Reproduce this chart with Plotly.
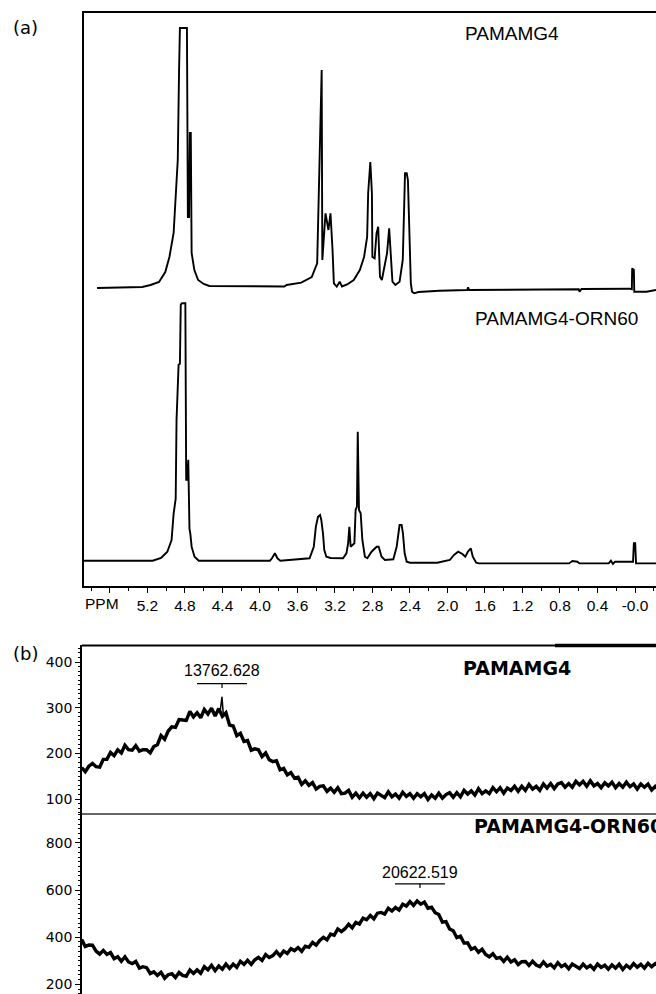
import plotly.graph_objects as go

# ---------------- Panel (a): 1H NMR spectra (ppm, arbitrary intensity) ----------------
nmr_top_ppm = [5.738, 5.256, 5.167, 5.077, 5.010, 4.966, 4.921, 4.899, 4.877, 4.863, 4.854, 4.779,
               4.769, 4.757, 4.748, 4.738, 4.729, 4.700, 4.660, 4.600, 4.540, 3.740, 3.716, 3.560,
               3.448, 3.390, 3.359, 3.342, 3.335, 3.301, 3.270, 3.248, 3.226, 3.212, 3.181, 3.150,
               3.125, 3.070, 3.000, 2.935, 2.890, 2.857, 2.846, 2.823, 2.806, 2.801, 2.777, 2.757,
               2.739, 2.720, 2.700, 2.674, 2.645, 2.622, 2.605, 2.587, 2.556, 2.511, 2.477, 2.466,
               2.453, 2.435, 2.422, 2.409, 2.391, 2.378, 2.355, 2.310, 2.087, 1.790, 1.780, 1.770,
               0.840, 0.600, 0.592, 0.570, 0.057, 0.034, 0.030, 0.012, 0.008, -0.122, -0.224]
nmr_top_int = [-1, 0, 2, 5, 15, 30, 54, 97, 127, 217, 259, 259,
               70, 70, 154, 154, 34, 17, 7, 3, 1, 0.5, 2, 4.3,
               10, 23.7, 137, 217, 27, 73.7, 57, 73.7, 37, 3.7, 0.3, 5.3,
               0.5, 2.5, 7, 17, 30, 50, 94, 125, 94, 30, 28.7, 53.7,
               60.3, 10.3, 7, 20, 33.7, 58.7, 30, 5.3, 2, 5.3, 27, 73.7,
               113.7, 113.7, 107, 63.7, 3.7, -4.7, -6.3, -5, -3.7, -3, -0.3, -3,
               -2.3, -2.3, -4.7, -2, -1.7, -2.3, 18.7, 17, -4.7, -4.7, -3]

nmr_bot_ppm = [5.881, 5.144, 5.055, 4.988, 4.943, 4.921, 4.899, 4.890, 4.868, 4.854, 4.845, 4.832,
               4.796, 4.787, 4.774, 4.765, 4.752, 4.743, 4.729, 4.698, 4.653, 3.894, 3.872, 3.841,
               3.814, 3.783, 3.471, 3.426, 3.404, 3.381, 3.359, 3.346, 3.328, 3.314, 3.292, 3.247,
               3.114, 3.078, 3.060, 3.047, 3.033, 3.015, 2.993, 2.980, 2.966, 2.957, 2.950, 2.944,
               2.926, 2.908, 2.881, 2.855, 2.810, 2.756, 2.734, 2.703, 2.667, 2.578, 2.542, 2.520,
               2.511, 2.489, 2.475, 2.457, 2.435, 2.399, 2.109, 1.975, 1.931, 1.886, 1.841, 1.810,
               1.783, 1.752, 1.730, 1.694, 1.663, 0.703, 0.668, 0.614, 0.592, 0.280, 0.257, 0.235,
               0.213, 0.021, 0.012, -0.002, -0.011, -0.225]
nmr_bot_int = [0, 0, 2.7, 9, 20.7, 47, 62, 141, 196, 197, 256, 257.4,
               257.4, 81, 81, 101, 32, 27, 14, 4, 0, 0, 2.4, 7.4,
               2.4, 0, 2.4, 14, 34, 44, 45.7, 40.7, 27.4, 10.7, 4, 2.7,
               2.4, 7.4, 17.4, 34, 14, 15.7, 17.4, 50.7, 54, 129, 54, 50.7,
               47.4, 20.7, 4, 2.4, 9, 14, 14, 4, 0.7, 1.4, 14, 27.4,
               35.7, 35.7, 27.4, 7.4, -1, -2, -2, 0.7, 5.7, 9, 6.7, 4,
               9, 12.4, 4, -2, -2.7, -2.7, -0.3, -1, -2.7, -2.7, 0, -3.3,
               -1, -1, 17.4, 17.4, -2.7, -2.7]

NMR_STACK_OFFSET = 273.7   # upper spectrum is drawn shifted up by this many a.u.

ppm_tickvals = [5.6, 5.2, 4.8, 4.4, 4.0, 3.6, 3.2, 2.8, 2.4, 2.0, 1.6, 1.2, 0.8, 0.4, 0.0]
ppm_ticktext = ["", "5.2", "4.8", "4.4", "4.0", "3.6", "3.2", "2.8", "2.4", "2.0", "1.6",
                "1.2", "0.8", "0.4", "-0.0"]
ppm_minorvals = [5.8, 5.4, 5.0, 4.6, 4.2, 3.8, 3.4, 3.0, 2.6, 2.2, 1.8, 1.4, 1.0, 0.6, 0.2, -0.2]

# ---------------- Panel (b): MALDI-TOF mass spectra (m/z, intensity) ----------------
ms_mz = [8900, 9025, 9150, 9275, 9400, 9525, 9650, 9775, 9900, 10025,
         10150, 10275, 10400, 10525, 10650, 10775, 10900, 11025, 11150, 11275,
         11400, 11525, 11650, 11775, 11900, 12025, 12150, 12275, 12400, 12525,
         12650, 12775, 12900, 13025, 13150, 13275, 13400, 13525, 13650, 13775,
         13900, 14025, 14150, 14275, 14400, 14525, 14650, 14775, 14900, 15025,
         15150, 15275, 15400, 15525, 15650, 15775, 15900, 16025, 16150, 16275,
         16400, 16525, 16650, 16775, 16900, 17025, 17150, 17275, 17400, 17525,
         17650, 17775, 17900, 18025, 18150, 18275, 18400, 18525, 18650, 18775,
         18900, 19025, 19150, 19275, 19400, 19525, 19650, 19775, 19900, 20025,
         20150, 20275, 20400, 20525, 20650, 20775, 20900, 21025, 21150, 21275,
         21400, 21525, 21650, 21775, 21900, 22025, 22150, 22275, 22400, 22525,
         22650, 22775, 22900, 23025, 23150, 23275, 23400, 23525, 23650, 23775,
         23900, 24025, 24150, 24275, 24400, 24525, 24650, 24775, 24900, 25025,
         25150, 25275, 25400, 25525, 25650, 25775, 25900, 26025, 26150, 26275,
         26400, 26525, 26650, 26775, 26900, 27025, 27150, 27275, 27400, 27525,
         27650, 27775, 27900, 28025, 28150, 28275, 28400, 28525, 28650, 28775,
         28900]
ms_g4 = [169, 160, 172, 178, 171, 170, 187, 187, 202, 195,
         208, 201, 218, 208, 207, 217, 205, 208, 208, 201,
         215, 219, 239, 231, 249, 258, 257, 274, 273, 272,
         292, 280, 289, 278, 296, 286, 299, 282, 298, 281,
         289, 262, 260, 239, 244, 226, 228, 207, 210, 208,
         193, 201, 186, 182, 184, 164, 167, 153, 158, 146,
         148, 132, 140, 130, 136, 122, 128, 129, 117, 124,
         115, 125, 112, 113, 119, 104, 113, 103, 113, 104,
         112, 101, 113, 109, 103, 116, 105, 111, 102, 115,
         106, 112, 102, 112, 105, 112, 99, 109, 102, 113,
         102, 110, 114, 104, 114, 105, 119, 111, 118, 109,
         123, 112, 118, 112, 125, 116, 125, 113, 124, 119,
         128, 117, 128, 119, 132, 122, 128, 119, 133, 124,
         134, 123, 133, 136, 126, 134, 126, 139, 131, 139,
         128, 140, 129, 134, 125, 136, 129, 137, 125, 134,
         126, 137, 127, 133, 122, 133, 126, 133, 120, 128,
         120]
ms_g4_spike_mz = [13700, 13762, 13810]
ms_g4_spike = [292, 324, 284]
ms_orn = [390, 360, 367, 366, 341, 328, 344, 327, 335, 309,
          317, 298, 317, 295, 288, 297, 269, 275, 271, 246,
          253, 238, 251, 226, 241, 245, 229, 250, 238, 234,
          261, 246, 261, 247, 275, 262, 281, 258, 278, 264,
          286, 268, 286, 272, 298, 285, 302, 285, 304, 314,
          301, 326, 314, 322, 339, 321, 341, 331, 351, 343,
          356, 340, 362, 357, 378, 366, 386, 399, 389, 413,
          408, 435, 424, 436, 455, 440, 463, 456, 481, 474,
          492, 478, 502, 505, 498, 523, 511, 526, 515, 540,
          532, 551, 535, 554, 540, 549, 523, 527, 504, 496,
          464, 466, 435, 427, 398, 404, 375, 376, 349, 356,
          336, 349, 327, 317, 330, 310, 314, 297, 315, 295,
          304, 284, 296, 297, 280, 298, 282, 275, 295, 277,
          285, 270, 292, 275, 284, 266, 286, 275, 267, 286,
          270, 280, 264, 286, 272, 281, 264, 282, 269, 285,
          263, 281, 269, 288, 273, 285, 269, 289, 275, 288,
          276]

peak_g4 = 13762.628
peak_orn = 20622.519

W, H = 656, 994
FONT_A = "Liberation Sans, Arial, sans-serif"
FONT_B = "DejaVu Sans, sans-serif"

fig = go.Figure()

# NMR traces
fig.add_trace(go.Scatter(x=nmr_top_ppm, y=[v + NMR_STACK_OFFSET for v in nmr_top_int],
                         mode="lines", line=dict(color="black", width=1.9),
                         xaxis="x", yaxis="y", showlegend=False, hoverinfo="skip"))
fig.add_trace(go.Scatter(x=nmr_bot_ppm, y=nmr_bot_int,
                         mode="lines", line=dict(color="black", width=1.9),
                         xaxis="x", yaxis="y", showlegend=False, hoverinfo="skip"))

# MS traces
fig.add_trace(go.Scatter(x=ms_mz, y=ms_g4, mode="lines",
                         line=dict(color="black", width=3.4),
                         xaxis="x2", yaxis="y2", showlegend=False, hoverinfo="skip"))
fig.add_trace(go.Scatter(x=ms_g4_spike_mz, y=ms_g4_spike, mode="lines",
                         line=dict(color="black", width=1.5),
                         xaxis="x2", yaxis="y2", showlegend=False, hoverinfo="skip"))
fig.add_trace(go.Scatter(x=ms_mz, y=ms_orn, mode="lines",
                         line=dict(color="black", width=3.4),
                         xaxis="x3", yaxis="y3", showlegend=False, hoverinfo="skip"))


def py(px):
    return 1 - px / H


def pxx(px):
    return px / W


mz_range = [8912, 28801]

fig.update_layout(
    width=W, height=H,
    margin=dict(l=0, r=0, t=0, b=0),
    paper_bgcolor="white", plot_bgcolor="white",
    xaxis=dict(domain=[pxx(84), 1], range=[5.877, -0.224], anchor="y",
               showgrid=False, zeroline=False, showline=True, linecolor="black",
               linewidth=1.5, mirror=True,
               tickmode="array", tickvals=ppm_tickvals, ticktext=ppm_ticktext,
               ticks="outside", ticklen=5, tickwidth=1.3, tickcolor="black",
               tickfont=dict(family=FONT_A, size=15.5, color="black"),
               minor=dict(tickmode="array", tickvals=ppm_minorvals, ticks="outside",
                          ticklen=3, tickwidth=1, tickcolor="black")),
    yaxis=dict(domain=[py(586), py(12.7)], range=[-25.3, 548], anchor="x",
               showgrid=False, zeroline=False, showline=True, linecolor="black",
               linewidth=1.5, showticklabels=False, ticks=""),
    xaxis2=dict(domain=[pxx(82), 1], range=mz_range, anchor="y2",
                showgrid=False, zeroline=False, showline=False,
                showticklabels=False, ticks=""),
    yaxis2=dict(domain=[py(814), py(645)], range=[67.4, 437.2], anchor="x2",
                showgrid=False, zeroline=False, showline=True, linecolor="black",
                linewidth=1.5, tickmode="array", tickvals=[100, 200, 300, 400],
                ticks="outside", ticklen=5, tickwidth=1.2, tickcolor="black",
                tickfont=dict(family=FONT_B, size=14, color="black"),
                minor=dict(dtick=10, tick0=0, ticks="outside", ticklen=2.5,
                           tickwidth=1, tickcolor="black")),
    xaxis3=dict(domain=[pxx(82), 1], range=mz_range, anchor="y3",
                showgrid=False, zeroline=False, showline=False,
                showticklabels=False, ticks=""),
    yaxis3=dict(domain=[0, py(814)], range=[159, 922.7], anchor="x3",
                showgrid=False, zeroline=False, showline=True, linecolor="black",
                linewidth=1.5, tickmode="array", tickvals=[200, 400, 600, 800],
                ticks="outside", ticklen=5, tickwidth=1.2, tickcolor="black",
                tickfont=dict(family=FONT_B, size=14, color="black"),
                minor=dict(dtick=20, tick0=0, ticks="outside", ticklen=2.5,
                           tickwidth=1, tickcolor="black")),
)

shapes = [
    # top border of panel (b)
    dict(type="line", xref="paper", yref="paper", x0=pxx(82), x1=1, y0=py(645.5), y1=py(645.5),
         line=dict(color="black", width=2)),
    dict(type="line", xref="paper", yref="paper", x0=pxx(555), x1=1, y0=py(645.5), y1=py(645.5),
         line=dict(color="black", width=3.5)),
    # divider between the two mass spectra
    dict(type="line", xref="paper", yref="paper", x0=pxx(82), x1=1, y0=py(814), y1=py(814),
         line=dict(color="#333333", width=1.3)),
    # peak marker bars
    dict(type="line", xref="x2", yref="y2", x0=peak_g4 - 866, x1=peak_g4 + 866, y0=352.5, y1=352.5,
         line=dict(color="black", width=1.3)),
    dict(type="line", xref="x2", yref="y2", x0=peak_g4, x1=peak_g4, y0=352.5, y1=343,
         line=dict(color="black", width=1.2)),
    dict(type="line", xref="x3", yref="y3", x0=peak_orn - 866, x1=peak_orn + 866, y0=626.5, y1=626.5,
         line=dict(color="black", width=1.3)),
    dict(type="line", xref="x3", yref="y3", x0=peak_orn, x1=peak_orn, y0=626.5, y1=609,
         line=dict(color="black", width=1.2)),
]
fig.update_layout(shapes=shapes)

ann = [
    dict(text="(a)", xref="paper", yref="paper", x=pxx(25), y=py(27), xanchor="center",
         yanchor="middle", showarrow=False, font=dict(family=FONT_B, size=18, color="black")),
    dict(text="(b)", xref="paper", yref="paper", x=pxx(25), y=py(653), xanchor="center",
         yanchor="middle", showarrow=False, font=dict(family=FONT_B, size=18, color="black")),
    dict(text="PAMAMG4", xref="paper", yref="paper", x=pxx(512), y=py(33), xanchor="center",
         yanchor="middle", showarrow=False, font=dict(family=FONT_A, size=19, color="black")),
    dict(text="PAMAMG4-ORN60", xref="paper", yref="paper", x=pxx(556), y=py(318), xanchor="center",
         yanchor="middle", showarrow=False, font=dict(family=FONT_A, size=19, color="black")),
    dict(text="PPM", xref="x", yref="paper", x=5.685, y=py(603), xanchor="center",
         yanchor="middle", showarrow=False, font=dict(family=FONT_A, size=15.5, color="black")),
    dict(text="<b>PAMAMG4</b>", xref="paper", yref="paper", x=pxx(517), y=py(668), xanchor="center",
         yanchor="middle", showarrow=False, font=dict(family=FONT_B, size=19, color="black")),
    dict(text="<b>PAMAMG4-ORN60</b>", xref="paper", yref="paper", x=pxx(472), y=py(826),
         xanchor="left", yanchor="middle", showarrow=False,
         font=dict(family=FONT_B, size=19, color="black")),
    dict(text=f"{peak_g4:.3f}", xref="x2", yref="y2", x=peak_g4, y=380.7, xanchor="center",
         yanchor="middle", showarrow=False, font=dict(family=FONT_A, size=16, color="black")),
    dict(text=f"{peak_orn:.3f}", xref="x3", yref="y3", x=peak_orn, y=676, xanchor="center",
         yanchor="middle", showarrow=False, font=dict(family=FONT_A, size=16, color="black")),
]
fig.update_layout(annotations=ann)

fig.write_html(
    "out.html",
    config={"displayModeBar": False},
    post_script="document.body.style.margin='0px';"
                "document.documentElement.style.overflow='hidden';",
)
